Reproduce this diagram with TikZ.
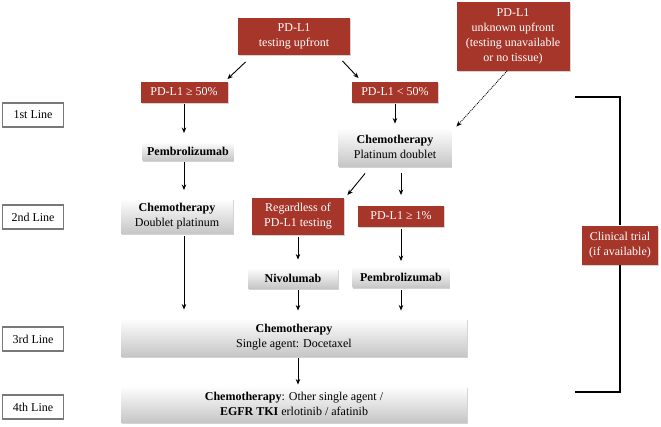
\documentclass[tikz,border=0pt]{standalone}
\usepackage{fontspec}
\setmainfont{Liberation Serif}
\usetikzlibrary{arrows.meta,shadows}
\definecolor{brick}{RGB}{166,54,42}
\definecolor{boxgray}{RGB}{198,198,198}
\definecolor{framegray}{RGB}{120,120,120}
\begin{document}
\begin{tikzpicture}[x=1pt, y=-1pt, line width=0.9pt, >={Stealth[length=5.5pt,width=4.5pt]},
  redbox/.style={fill=brick, text=white, align=center, inner sep=1pt, drop shadow={shadow xshift=1pt,shadow yshift=-1.5pt,opacity=.35}},
  graybox/.style={top color=white, bottom color=boxgray, align=center, inner sep=1pt, drop shadow={shadow xshift=0.5pt,shadow yshift=-1.5pt,opacity=.35}},
  linebox/.style={draw=framegray, line width=1.3pt, fill=white, minimum width=61pt, minimum height=24pt, inner sep=1pt},
  arr/.style={->, line width=0.9pt},
  every node/.style={font=\fontsize{12}{15}\selectfont}]
\useasboundingbox (0,0) rectangle (661,426);
\begin{scope}
% red decision boxes
\node[redbox, minimum width=112pt, minimum height=37pt] (test) at (294,36) {PD-L1\\testing upfront};
\node[redbox, minimum width=113pt, minimum height=69pt] (unknown) at (513,36) {PD-L1\\unknown upfront\\(testing unavailable\\or no tissue)};
\node[redbox, minimum width=87pt, minimum height=21pt] (ge50) at (184,92) {PD-L1 ≥ 50\%};
\node[redbox, minimum width=86pt, minimum height=21pt] (lt50) at (395,92) {PD-L1 < 50\%};
\node[redbox, minimum width=92pt, minimum height=37pt] (regard) at (298,216) {Regardless of\\PD-L1 testing};
\node[redbox, minimum width=86pt, minimum height=21pt] (ge1) at (401,216) {PD-L1 ≥ 1\%};
\node[redbox, minimum width=76pt, minimum height=39pt] (trial) at (620,245) {Clinical trial\\(if available)};
% treatment boxes
\node[graybox, minimum width=91pt, minimum height=19pt] (pembroA) at (188,151) {\textbf{Pembrolizumab}};
\node[graybox, minimum width=113pt, minimum height=38pt] (chemoB) at (395,147) {\textbf{Chemotherapy}\\Platinum doublet};
\node[graybox, minimum width=112pt, minimum height=35pt] (chemoA) at (177,216) {\textbf{Chemotherapy}\\Doublet platinum};
\node[graybox, minimum width=90pt, minimum height=20pt] (nivo) at (293,278) {\textbf{Nivolumab}};
\node[graybox, minimum width=97pt, minimum height=21pt] (pembroB) at (401,277) {\textbf{Pembrolizumab}};
\node[graybox, minimum width=346pt, minimum height=38pt] (third) at (294,337) {\textbf{Chemotherapy}\\Single agent: Docetaxel};
\node[graybox, minimum width=346pt, minimum height=36pt] (fourth) at (294,404) {\textbf{Chemotherapy}: Other single agent /\\\textbf{EGFR TKI} erlotinib / afatinib};
% line labels
\node[linebox] (l1) at (33,115) {1st Line};
\node[linebox] (l2) at (33,217) {2nd Line};
\node[linebox] (l3) at (33,339) {3rd Line};
\node[linebox] (l4) at (33,407) {4th Line};
\coordinate (ctop) at (575,97);
\coordinate (cbot) at (575,392);
\end{scope}
\begin{scope}
\draw[arr] ([shift={(8,7)}]test.south west) -- ([shift={(-0.5,-2)}]ge50.north east);
\draw[arr] ([shift={(-8,6)}]test.south east) -- ([shift={(7,-3)}]lt50.north west);
\draw[arr, densely dotted] ([shift={(-6,0)}]unknown.south) -- ([shift={(4.5,-1)}]chemoB.north east);
\draw[arr, shorten <=1pt, shorten >=8pt] (ge50.south) -- (ge50.south |- pembroA.north);
\draw[arr, shorten <=1pt, shorten >=8pt] (ge50.south |- pembroA.south) -- (ge50.south |- chemoA.north);
\draw[arr, shorten <=1pt, shorten >=4pt] (lt50.south) -- (lt50.south |- chemoB.north);
\draw[arr] ([shift={(27,7)}]chemoB.south west) -- ([shift={(3,-2)}]regard.north east);
\draw[arr, shorten <=7pt, shorten >=10pt] (ge1.north |- chemoB.south) -- (ge1.north);
\draw[arr, shorten <=2pt, shorten >=8pt] (regard.south) -- (regard.south |- nivo.north);
\draw[arr, shorten <=2pt, shorten >=5pt] (ge1.south) -- (ge1.south |- pembroB.north);
\draw[arr, shorten <=2pt, shorten >=8pt] (ge50.south |- chemoA.south) -- (ge50.south |- third.north);
\draw[arr, shorten <=2pt, shorten >=7pt] (regard.south |- nivo.south) -- (regard.south |- third.north);
\draw[arr, shorten <=2pt, shorten >=7pt] (ge1.south |- pembroB.south) -- (ge1.south |- third.north);
\draw[arr, shorten <=2pt, shorten >=1pt] (regard.south |- third.south) -- (regard.south |- fourth.north);
% clinical trial bracket
\draw[line width=1.5pt] (ctop) -| (trial.north);
\draw[line width=1.5pt] (trial.south) |- (cbot);
\end{scope}
\end{tikzpicture}
\end{document}
